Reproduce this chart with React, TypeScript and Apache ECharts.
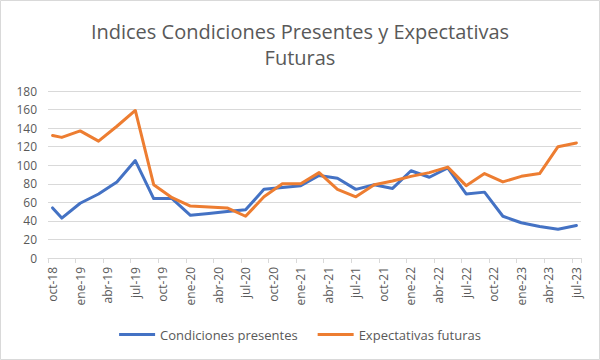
import React, { useEffect, useRef } from "react";
import * as echarts from "echarts";

const monthNames = ["ene", "feb", "mar", "abr", "may", "jun", "jul", "ago", "sep", "oct", "nov", "dic"];

const dates = [
  "2018-10", "2018-11", "2019-01", "2019-03", "2019-05", "2019-07", "2019-09", "2019-11",
  "2020-01", "2020-03", "2020-05", "2020-07", "2020-09", "2020-11",
  "2021-01", "2021-03", "2021-05", "2021-07", "2021-09", "2021-11",
  "2022-01", "2022-03", "2022-05", "2022-07", "2022-09", "2022-11",
  "2023-01", "2023-03", "2023-05", "2023-07",
];

const presentes = [
  54, 43, 59, 69, 82, 105, 64, 64,
  46, 48, 50, 52, 74, 76,
  78, 89, 86, 74, 79, 75,
  94, 87, 97, 69, 71, 45,
  38, 34, 31, 35,
];

const futuras = [
  132, 130, 137, 126, 142, 159, 79, 65,
  56, 55, 54, 45, 66, 80,
  80, 92, 74, 66, 79, 83,
  88, 92, 98, 78, 91, 82,
  88, 91, 120, 124,
];

const yTicks = [0, 20, 40, 60, 80, 100, 120, 140, 160, 180];

const seriesNames = ["Condiciones presentes", "Expectativas futuras"];
const titleText = "Indices Condiciones Presentes y Expectativas\nFuturas";

function label(d: string): string {
  const [y, m] = d.split("-");
  return `${monthNames[parseInt(m, 10) - 1]}-${y.slice(2)}`;
}

// monthly calendar from first to last date
function buildMonths(first: string, last: string): string[] {
  const out: string[] = [];
  let [y, m] = first.split("-").map((v) => parseInt(v, 10));
  const [ly, lm] = last.split("-").map((v) => parseInt(v, 10));
  while (y < ly || (y === ly && m <= lm)) {
    out.push(`${y}-${String(m).padStart(2, "0")}`);
    m++;
    if (m > 12) {
      m = 1;
      y++;
    }
  }
  return out;
}

const FONT = "'Open Sans', 'Noto Sans', sans-serif";

export default function App() {
  const ref = useRef<HTMLDivElement>(null);
  useEffect(() => {
    if (!ref.current) return;
    const chart = echarts.init(ref.current, null, { renderer: "svg" });
    const categories = buildMonths(dates[0], dates[dates.length - 1]).map(label);
    chart.setOption({
      animation: false,
      backgroundColor: "#ffffff",
      textStyle: { fontFamily: FONT },
      title: {
        text: titleText,
        left: "center",
        top: 13,
        textStyle: {
          fontSize: 20,
          fontWeight: "normal",
          color: "#595959",
          lineHeight: 26,
          fontFamily: FONT,
        },
      },
      graphic: [
        {
          type: "rect",
          shape: { x: 0.5, y: 0.5, width: 599, height: 359 },
          style: { fill: "none", stroke: "#D9D9D9", lineWidth: 1 },
          silent: true,
        },
      ],
      legend: {
        bottom: 14,
        left: "center",
        icon: "rect",
        itemWidth: 36,
        itemHeight: 3,
        itemGap: 20,
        textStyle: { fontSize: 13, color: "#595959", fontFamily: FONT },
        data: seriesNames,
      },
      grid: { left: 48, right: 19, top: 91, bottom: 102, containLabel: false },
      xAxis: {
        type: "category",
        data: categories,
        boundaryGap: true,
        axisLine: { lineStyle: { color: "#D9D9D9" } },
        axisTick: { show: true, interval: 2, length: 5, lineStyle: { color: "#D9D9D9" } },
        axisLabel: {
          interval: 2,
          rotate: 90,
          fontSize: 12,
          color: "#595959",
          margin: 9,
          fontFamily: FONT,
        },
      },
      yAxis: {
        type: "value",
        min: yTicks[0],
        max: yTicks[yTicks.length - 1],
        interval: 20,
        axisLine: { show: false },
        axisTick: { show: false },
        axisLabel: { fontSize: 12, color: "#595959", margin: 11, fontFamily: FONT },
        splitLine: { lineStyle: { color: "#D9D9D9", width: 1 } },
      },
      series: [
        {
          name: seriesNames[0],
          type: "line",
          data: dates.map((d, i) => [label(d), presentes[i]]),
          showSymbol: false,
          lineStyle: { color: "#4472C4", width: 3, cap: "round", join: "round" },
          itemStyle: { color: "#4472C4" },
        },
        {
          name: seriesNames[1],
          type: "line",
          data: dates.map((d, i) => [label(d), futuras[i]]),
          showSymbol: false,
          lineStyle: { color: "#ED7D31", width: 3, cap: "round", join: "round" },
          itemStyle: { color: "#ED7D31" },
        },
      ],
    });
    return () => chart.dispose();
  }, []);
  return (
    <div
      ref={ref}
      style={{ position: "fixed", left: 0, top: 0, width: 600, height: 360 }}
    />
  );
}
